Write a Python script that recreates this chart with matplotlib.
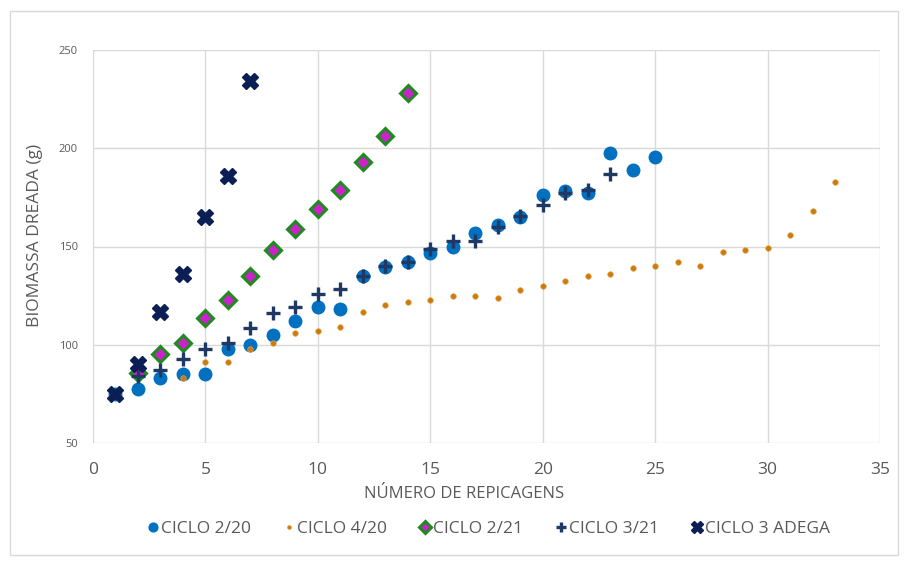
import matplotlib
matplotlib.use('Agg')
import matplotlib.pyplot as plt
from matplotlib.patches import Rectangle

plt.rcParams['font.family'] = ['Open Sans', 'DejaVu Sans']

# data
x_220 = list(range(1, 26))
y_220 = [75, 77.5, 83, 85, 85, 98, 100, 105, 112, 119, 118, 135, 139.5, 142, 146.5,
         150, 157, 161, 165, 176, 178, 177, 197.5, 189, 195.5]

x_420 = list(range(4, 34))
y_420 = [83, 91, 91, 98, 101, 106, 107, 109, 116.5, 120, 122, 123, 125, 125, 124,
         128, 130, 132.5, 135, 136, 139, 140, 142, 140, 147, 148, 149, 156, 168, 183]

x_221 = list(range(2, 15))
y_221 = [85.5, 95.5, 101, 113.5, 123, 135, 148, 159, 169, 179, 193, 206, 228]

x_321 = list(range(2, 24))
y_321 = [84, 87, 93, 98, 101, 108.5, 116, 119, 126, 128.5, 135, 140, 142, 148.5,
         153, 153, 160, 165.5, 171, 177, 179, 187]

x_adega = [1, 2, 3, 4, 5, 6, 7]
y_adega = [75, 90, 116.5, 136, 165, 186, 234]

fig = plt.figure(figsize=(9.06, 5.61), dpi=100)
fig.patches.append(Rectangle((10 / 906, 6 / 561), 888 / 906, 544 / 561, transform=fig.transFigure,
                             fill=False, edgecolor='#d9d9d9', linewidth=1))
ax = fig.add_axes([93 / 906, 1 - 443 / 561, 787 / 906, 393 / 561])

ax.plot(x_220, y_220, 'o', color='#0070c0', ms=9, mec='#0070c0', label='CICLO 2/20', zorder=3)
ax.plot(x_420, y_420, 'o', color='#c97a10', ms=4, mec='#e8a040', mew=0.5, label='CICLO 4/20', zorder=3)
ax.plot(x_221, y_221, 'D', color='#cc22cc', ms=8.5, mec='#1f8a1f', mew=2.2, label='CICLO 2/21', zorder=4)
ax.plot(x_321, y_321, '+', color='#1f3864', ms=10, mew=2.4, label='CICLO 3/21', zorder=5)
ax.plot(x_adega, y_adega, 'X', color='#0b1f55', ms=12, mec='#0b1f55', label='CICLO 3 ADEGA', zorder=6)

ax.set_xlim(0, 35)
ax.set_ylim(50, 250)
ax.set_xticks(range(0, 36, 5))
ax.set_yticks(range(50, 251, 50))
ax.grid(True, color='#d9d9d9', linewidth=1)
ax.set_axisbelow(True)
for s in ax.spines.values():
    s.set_visible(False)
ax.tick_params(length=0)
ax.tick_params(axis='x', labelsize=12.5, labelcolor='#595959', pad=14)
ax.tick_params(axis='y', labelsize=8, labelcolor='#595959', pad=11)
ax.set_xlabel('NÚMERO DE REPICAGENS', fontsize=12, color='#595959', va='center')
ax.xaxis.set_label_coords((464 - 93) / 787, (443 - 494) / 393)
ax.set_ylabel('BIOMASSA DREADA (g)', fontsize=12.5, color='#595959', va='center')
ax.yaxis.set_label_coords((35 - 93) / 787, (443 - 235) / 393)

fig.legend(loc='center', bbox_to_anchor=(489 / 906, 1 - 529 / 561), ncol=5, frameon=False,
           fontsize=12.5, labelcolor='#595959', handlelength=0.6, handletextpad=0.15,
           columnspacing=1.9, markerscale=0.7)

fig.savefig('out.png', dpi=100)
